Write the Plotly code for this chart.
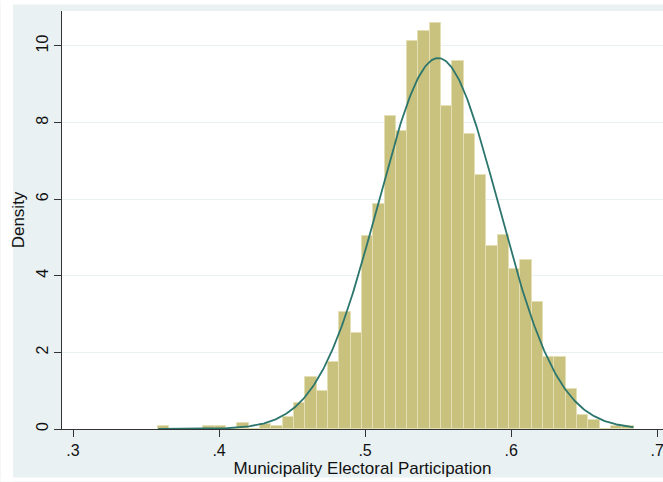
import numpy as np
import plotly.graph_objects as go

# ---- data ----
bin_start = 0.3583
bin_width = 0.00775
density = [0.08, 0.0, 0.0, 0.0, 0.08, 0.08, 0.0, 0.15, 0.0, 0.14,
           0.08, 0.31, 0.68, 1.36, 0.98, 1.74, 3.05, 2.51, 5.05, 5.88,
           8.17, 7.77, 10.14, 10.40, 10.61, 8.44, 9.62, 7.69, 6.63, 4.78,
           5.07, 4.18, 4.42, 3.32, 1.88, 1.88, 1.05, 0.37, 0.23, 0.0,
           0.08, 0.08]
normal_mean = 0.5500
normal_sd = 0.0412
data_min = 0.3583
data_max = 0.6838
x_tickvals = [0.3, 0.4, 0.5, 0.6, 0.7]
x_ticktext = [".3", ".4", ".5", ".6", ".7"]
y_tickvals = [0, 2, 4, 6, 8, 10]
y_ticktext = ["0", "2", "4", "6", "8", "10"]
x_title = "Municipality Electoral Participation"
y_title = "Density"

centers = [bin_start + (i + 0.5) * bin_width for i in range(len(density))]
xs = np.linspace(data_min, data_max, 400)
ys = np.exp(-0.5 * ((xs - normal_mean) / normal_sd) ** 2) / (normal_sd * np.sqrt(2 * np.pi))

# ---- layout geometry ----
W, H = 663, 482
ML, MR, MT, MB = 61.5, 0, 11, 52.5
PW = W - ML - MR
PH = H - MT - MB
BG = "#EAF1F3"
FONT = "Liberation Sans, Arial, sans-serif"


def px_x(p):
    return (p - ML) / PW


def px_y(p):
    return (H - MB - p) / PH


fig = go.Figure()
fig.add_trace(go.Bar(
    x=centers, y=density, width=bin_width,
    marker=dict(color="#C9C17E", line=dict(color="#E4DFB4", width=1)),
    hoverinfo="skip", showlegend=False,
))
fig.add_trace(go.Scatter(
    x=xs, y=ys, mode="lines",
    line=dict(color="#2C766D", width=1.8),
    hoverinfo="skip", showlegend=False,
))

shapes = [
    dict(type="rect", xref="paper", yref="paper", layer="below",
         x0=px_x(0), x1=px_x(12.5), y0=px_y(H), y1=px_y(0),
         fillcolor="white", line=dict(width=0)),
    dict(type="rect", xref="paper", yref="paper", layer="below",
         x0=px_x(0), x1=px_x(W), y0=px_y(4.5), y1=px_y(0),
         fillcolor="white", line=dict(width=0)),
    dict(type="rect", xref="paper", yref="paper", layer="below",
         x0=px_x(0), x1=px_x(W), y0=px_y(H), y1=px_y(478),
         fillcolor="white", line=dict(width=0)),
]

fig.update_layout(
    width=W, height=H,
    margin=dict(l=ML, r=MR, t=MT, b=MB, pad=0),
    paper_bgcolor=BG, plot_bgcolor="white",
    bargap=0, shapes=shapes,
    font=dict(family=FONT, size=16, color="#111111"),
    xaxis=dict(
        range=[0.4 + (ML - 218.7) / 1461.5, 0.4 + (W - 218.7) / 1461.5],
        tickvals=x_tickvals, ticktext=x_ticktext,
        ticklabeloverflow="allow",
        showgrid=False, zeroline=False,
        showline=True, linecolor="#333333", linewidth=1,
        ticks="outside", ticklen=7, tickcolor="#333333", tickwidth=1,
        tickfont=dict(size=16),
        title=dict(text=x_title, font=dict(size=17), standoff=2),
    ),
    yaxis=dict(
        range=[0, (H - MB - MT) / 38.35],
        tickvals=y_tickvals, ticktext=y_ticktext, tickangle=-90,
        showgrid=True, gridcolor="#E9F0F2", gridwidth=1.2,
        zeroline=False,
        showline=True, linecolor="#333333", linewidth=1,
        ticks="outside", ticklen=7, tickcolor="#333333", tickwidth=1,
        tickfont=dict(size=16),
        title=dict(text=y_title, font=dict(size=17), standoff=4),
    ),
)

fig.write_html("out.html")
